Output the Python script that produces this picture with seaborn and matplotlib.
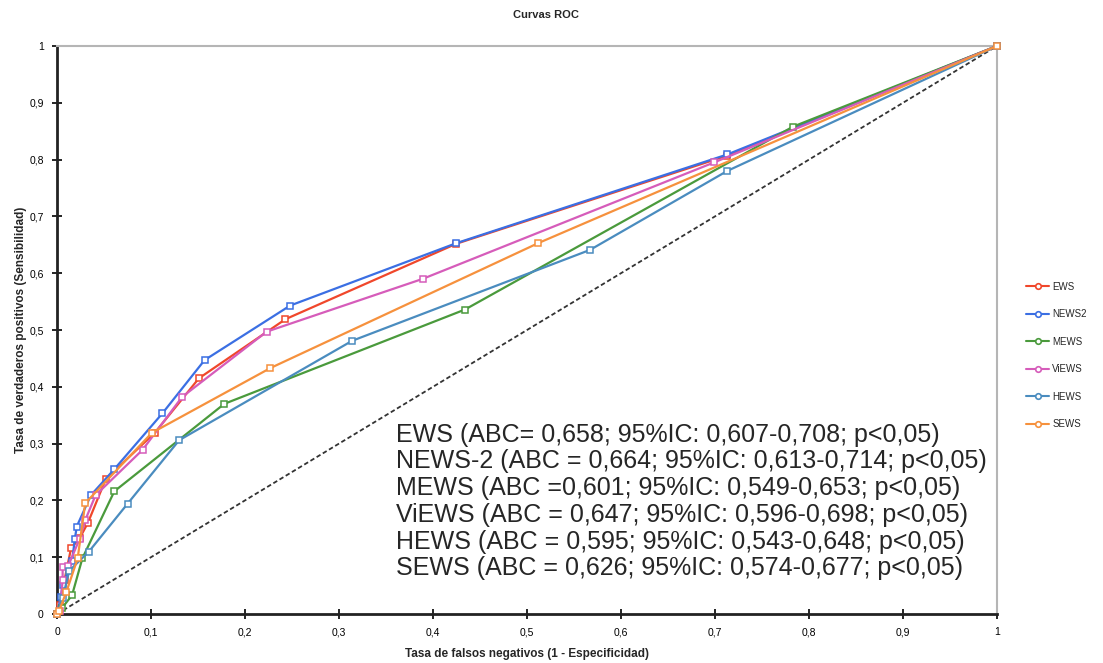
import matplotlib
matplotlib.use("Agg")
import matplotlib.pyplot as plt
from matplotlib.lines import Line2D
from matplotlib.ticker import FuncFormatter
import numpy as np
import pandas as pd
import seaborn as sns

# ROC points (fpr, tpr)
ews_fpr = [0, 0.003, 0.008, 0.015, 0.024, 0.033, 0.052, 0.104, 0.151, 0.243, 0.425, 0.713, 1]
ews_tpr = [0, 0.016, 0.060, 0.116, 0.133, 0.161, 0.238, 0.319, 0.415, 0.519, 0.652, 0.807, 1]

news2_fpr = [0, 0.004, 0.006, 0.016, 0.019, 0.021, 0.036, 0.061, 0.112, 0.157, 0.248, 0.425, 0.713, 1]
news2_tpr = [0, 0.030, 0.051, 0.093, 0.132, 0.154, 0.209, 0.255, 0.353, 0.447, 0.543, 0.653, 0.809, 1]

mews_fpr = [0, 0.005, 0.016, 0.027, 0.061, 0.178, 0.434, 0.783, 1]
mews_tpr = [0, 0.010, 0.033, 0.098, 0.216, 0.370, 0.536, 0.858, 1]

views_fpr = [0, 0.003, 0.006, 0.006, 0.012, 0.024, 0.030, 0.041, 0.091, 0.133, 0.223, 0.389, 0.699, 1]
views_tpr = [0, 0.005, 0.060, 0.083, 0.085, 0.132, 0.165, 0.209, 0.289, 0.382, 0.497, 0.590, 0.795, 1]

hews_fpr = [0, 0.006, 0.013, 0.034, 0.075, 0.130, 0.314, 0.567, 0.713, 1]
hews_tpr = [0, 0.028, 0.076, 0.110, 0.194, 0.306, 0.481, 0.641, 0.780, 1]

sews_fpr = [0, 0.002, 0.010, 0.022, 0.030, 0.101, 0.227, 0.512, 1]
sews_tpr = [0, 0.005, 0.039, 0.098, 0.195, 0.319, 0.433, 0.653, 1]

labels = ["EWS", "NEWS2", "MEWS", "ViEWS", "HEWS", "SEWS"]
colors = ["#f0472b", "#3b6fe3", "#4a9a3c", "#d65cba", "#4a8cbf", "#f6913d"]

notes = [
    "EWS (ABC= 0,658; 95%IC: 0,607-0,708; p<0,05)",
    "NEWS-2 (ABC = 0,664; 95%IC: 0,613-0,714; p<0,05)",
    "MEWS (ABC =0,601; 95%IC: 0,549-0,653; p<0,05)",
    "ViEWS (ABC = 0,647; 95%IC: 0,596-0,698; p<0,05)",
    "HEWS (ABC = 0,595; 95%IC: 0,543-0,648; p<0,05)",
    "SEWS (ABC = 0,626; 95%IC: 0,574-0,677; p<0,05)",
]

curves = [(ews_fpr, ews_tpr), (news2_fpr, news2_tpr), (mews_fpr, mews_tpr),
          (views_fpr, views_tpr), (hews_fpr, hews_tpr), (sews_fpr, sews_tpr)]

sns.set_style("white")
plt.rcParams['font.family'] = ['Liberation Sans', 'DejaVu Sans']

fig = plt.figure(figsize=(11.03, 6.63), dpi=100)
ax = fig.add_axes([57 / 1103, 49 / 663, 940 / 1103, 568 / 663])

# diagonal reference
ax.plot([0, 1], [0, 1], color="#333333", linestyle=(0, (2.5, 1.5)), linewidth=1.3, zorder=1)

for (fpr, tpr), name, col in zip(curves, labels, colors):
    df = pd.DataFrame({"fpr": fpr, "tpr": tpr})
    sns.lineplot(data=df, x="fpr", y="tpr", ax=ax, color=col, linewidth=1.6,
                 marker="s", markersize=5, markerfacecolor="white",
                 markeredgecolor=col, markeredgewidth=1.1,
                 estimator=None, sort=False, clip_on=False, zorder=3)

ax.set_xlim(0, 1)
ax.set_ylim(0, 1)
ticks = np.round(np.arange(0, 1.01, 0.1), 1)
ax.set_xticks(ticks)
ax.set_yticks(ticks)
fmt = FuncFormatter(lambda v, p: ("%g" % v).replace(".", ","))
ax.xaxis.set_major_formatter(fmt)
ax.yaxis.set_major_formatter(fmt)
ax.tick_params(axis="both", direction="inout", length=7, width=1.2, labelsize=7.5,
               colors="black", pad=6, bottom=True, left=True)

for side in ["left", "bottom"]:
    ax.spines[side].set_color("#222222")
    ax.spines[side].set_linewidth(2)
for side in ["top", "right"]:
    ax.spines[side].set_color("#b5b5b5")
    ax.spines[side].set_linewidth(1.5)

ax.set_xlabel("Tasa de falsos negativos (1 - Especificidad)", fontsize=8.5,
              fontweight="bold", labelpad=8)
ax.set_ylabel("Tasa de verdaderos positivos (Sensibilidad)", fontsize=8.5,
              fontweight="bold", labelpad=2)
fig.text(546 / 1103, 1 - 15 / 663, "Curvas ROC", fontsize=8, fontweight="bold",
         ha="center", va="center")

ax.text(0.361, 0.337, "\n".join(notes), fontsize=18, va="top", ha="left",
        linespacing=1.145, zorder=5)

handles = [Line2D([0], [0], color=c, linewidth=1.5, marker="o", markersize=4,
                  markerfacecolor="white", markeredgecolor=c, markeredgewidth=1.2)
           for c in colors]
fig.legend(handles, labels, loc="upper left", bbox_to_anchor=(1022 / 1103, 1 - 278 / 663),
           frameon=False, fontsize=7, handlelength=2.4, handletextpad=0.3,
           labelspacing=1.8, borderaxespad=0)

fig.savefig("out.png", dpi=100)
